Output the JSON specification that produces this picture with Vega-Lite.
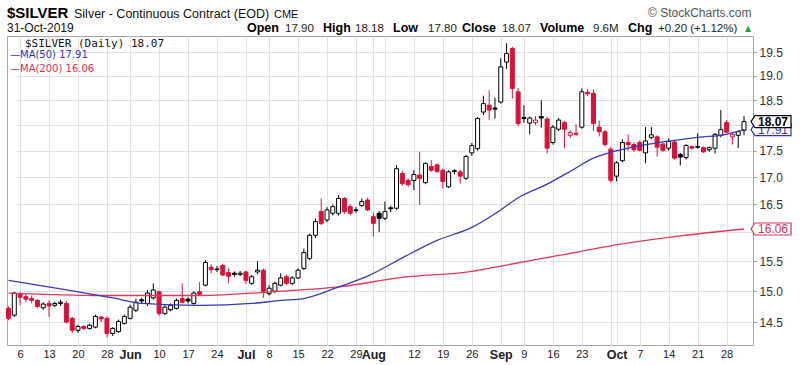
{
  "$schema": "https://vega.github.io/schema/vega-lite/v6.json",
  "width": 746,
  "height": 309,
  "autosize": {"type": "none"},
  "padding": {"left": 7, "top": 36, "right": 47, "bottom": 20},
  "background": "white",
  "config": {"view": {"stroke": "#a8a8a8", "strokeWidth": 1}, "font": "Liberation Sans"},
  "datasets": {
    "prices": [
      {"d":"2019-05-02","o":14.72,"h":14.75,"l":14.53,"c":14.56},
      {"d":"2019-05-03","o":14.61,"h":14.99,"l":14.58,"c":14.97},
      {"d":"2019-05-06","o":14.95,"h":14.98,"l":14.77,"c":14.90},
      {"d":"2019-05-07","o":14.91,"h":14.96,"l":14.82,"c":14.87},
      {"d":"2019-05-08","o":14.88,"h":14.93,"l":14.80,"c":14.85},
      {"d":"2019-05-09","o":14.85,"h":14.87,"l":14.73,"c":14.75},
      {"d":"2019-05-10","o":14.73,"h":14.82,"l":14.70,"c":14.79},
      {"d":"2019-05-13","o":14.80,"h":14.85,"l":14.58,"c":14.76},
      {"d":"2019-05-14","o":14.77,"h":14.83,"l":14.74,"c":14.80},
      {"d":"2019-05-15","o":14.80,"h":14.86,"l":14.76,"c":14.82},
      {"d":"2019-05-16","o":14.80,"h":14.84,"l":14.48,"c":14.50},
      {"d":"2019-05-17","o":14.56,"h":14.58,"l":14.33,"c":14.37},
      {"d":"2019-05-20","o":14.37,"h":14.46,"l":14.33,"c":14.43},
      {"d":"2019-05-21","o":14.43,"h":14.45,"l":14.37,"c":14.40},
      {"d":"2019-05-22","o":14.40,"h":14.47,"l":14.38,"c":14.45},
      {"d":"2019-05-23","o":14.42,"h":14.62,"l":14.40,"c":14.59},
      {"d":"2019-05-24","o":14.58,"h":14.60,"l":14.50,"c":14.55},
      {"d":"2019-05-28","o":14.56,"h":14.59,"l":14.26,"c":14.32},
      {"d":"2019-05-29","o":14.32,"h":14.42,"l":14.28,"c":14.40},
      {"d":"2019-05-30","o":14.35,"h":14.54,"l":14.33,"c":14.51},
      {"d":"2019-05-31","o":14.48,"h":14.62,"l":14.46,"c":14.59},
      {"d":"2019-06-03","o":14.56,"h":14.78,"l":14.54,"c":14.74},
      {"d":"2019-06-04","o":14.69,"h":14.88,"l":14.66,"c":14.82},
      {"d":"2019-06-05","o":14.86,"h":14.89,"l":14.79,"c":14.84},
      {"d":"2019-06-06","o":14.80,"h":15.02,"l":14.76,"c":14.97},
      {"d":"2019-06-07","o":14.89,"h":15.13,"l":14.86,"c":15.02},
      {"d":"2019-06-10","o":14.99,"h":15.01,"l":14.60,"c":14.64},
      {"d":"2019-06-11","o":14.64,"h":14.77,"l":14.61,"c":14.74},
      {"d":"2019-06-12","o":14.70,"h":14.80,"l":14.67,"c":14.77},
      {"d":"2019-06-13","o":14.72,"h":14.88,"l":14.70,"c":14.85},
      {"d":"2019-06-14","o":14.88,"h":15.13,"l":14.80,"c":14.82},
      {"d":"2019-06-17","o":14.87,"h":14.90,"l":14.80,"c":14.84},
      {"d":"2019-06-18","o":14.80,"h":15.00,"l":14.78,"c":14.97},
      {"d":"2019-06-19","o":14.99,"h":15.15,"l":14.93,"c":14.95},
      {"d":"2019-06-20","o":15.10,"h":15.52,"l":15.08,"c":15.48},
      {"d":"2019-06-21","o":15.40,"h":15.45,"l":15.30,"c":15.36},
      {"d":"2019-06-24","o":15.36,"h":15.42,"l":15.32,"c":15.37},
      {"d":"2019-06-25","o":15.43,"h":15.46,"l":15.25,"c":15.27},
      {"d":"2019-06-26","o":15.31,"h":15.38,"l":15.13,"c":15.25},
      {"d":"2019-06-27","o":15.30,"h":15.33,"l":15.24,"c":15.28},
      {"d":"2019-06-28","o":15.28,"h":15.34,"l":15.25,"c":15.30},
      {"d":"2019-07-01","o":15.32,"h":15.34,"l":15.12,"c":15.18},
      {"d":"2019-07-02","o":15.13,"h":15.27,"l":15.10,"c":15.24},
      {"d":"2019-07-03","o":15.32,"h":15.50,"l":15.28,"c":15.35},
      {"d":"2019-07-05","o":15.35,"h":15.38,"l":14.89,"c":15.00},
      {"d":"2019-07-08","o":14.96,"h":15.10,"l":14.93,"c":15.05},
      {"d":"2019-07-09","o":15.00,"h":15.16,"l":14.97,"c":15.13},
      {"d":"2019-07-10","o":15.10,"h":15.30,"l":15.08,"c":15.22},
      {"d":"2019-07-11","o":15.24,"h":15.28,"l":15.10,"c":15.13},
      {"d":"2019-07-12","o":15.13,"h":15.25,"l":15.10,"c":15.22},
      {"d":"2019-07-15","o":15.22,"h":15.38,"l":15.20,"c":15.35},
      {"d":"2019-07-16","o":15.38,"h":15.72,"l":15.35,"c":15.65},
      {"d":"2019-07-17","o":15.55,"h":15.98,"l":15.52,"c":15.95},
      {"d":"2019-07-18","o":15.95,"h":16.25,"l":15.90,"c":16.19},
      {"d":"2019-07-19","o":16.37,"h":16.61,"l":16.13,"c":16.16},
      {"d":"2019-07-22","o":16.22,"h":16.45,"l":16.18,"c":16.40},
      {"d":"2019-07-23","o":16.34,"h":16.50,"l":16.30,"c":16.46},
      {"d":"2019-07-24","o":16.34,"h":16.67,"l":16.30,"c":16.61},
      {"d":"2019-07-25","o":16.61,"h":16.63,"l":16.33,"c":16.37},
      {"d":"2019-07-26","o":16.46,"h":16.50,"l":16.30,"c":16.34},
      {"d":"2019-07-29","o":16.40,"h":16.45,"l":16.35,"c":16.39},
      {"d":"2019-07-30","o":16.48,"h":16.61,"l":16.45,"c":16.55},
      {"d":"2019-07-31","o":16.58,"h":16.62,"l":16.38,"c":16.40},
      {"d":"2019-08-01","o":16.28,"h":16.35,"l":15.92,"c":16.16},
      {"d":"2019-08-02","o":16.34,"h":16.38,"l":16.01,"c":16.25},
      {"d":"2019-08-05","o":16.25,"h":16.55,"l":16.22,"c":16.37},
      {"d":"2019-08-06","o":16.44,"h":16.48,"l":16.36,"c":16.42},
      {"d":"2019-08-07","o":16.43,"h":17.23,"l":16.40,"c":17.16},
      {"d":"2019-08-08","o":17.07,"h":17.12,"l":16.84,"c":16.88},
      {"d":"2019-08-09","o":16.94,"h":16.98,"l":16.82,"c":16.86},
      {"d":"2019-08-12","o":16.94,"h":17.13,"l":16.76,"c":17.05},
      {"d":"2019-08-13","o":17.04,"h":17.48,"l":16.49,"c":16.98},
      {"d":"2019-08-14","o":16.90,"h":17.28,"l":16.87,"c":17.26},
      {"d":"2019-08-15","o":17.20,"h":17.32,"l":17.10,"c":17.13},
      {"d":"2019-08-16","o":17.23,"h":17.26,"l":17.08,"c":17.11},
      {"d":"2019-08-19","o":17.13,"h":17.16,"l":16.79,"c":16.92},
      {"d":"2019-08-20","o":16.82,"h":17.13,"l":16.80,"c":17.10},
      {"d":"2019-08-21","o":17.12,"h":17.15,"l":17.05,"c":17.11},
      {"d":"2019-08-22","o":17.10,"h":17.13,"l":16.88,"c":17.02},
      {"d":"2019-08-23","o":16.98,"h":17.42,"l":16.95,"c":17.39},
      {"d":"2019-08-26","o":17.46,"h":17.65,"l":17.40,"c":17.60},
      {"d":"2019-08-27","o":17.54,"h":18.16,"l":17.50,"c":18.13},
      {"d":"2019-08-28","o":18.26,"h":18.59,"l":18.20,"c":18.43},
      {"d":"2019-08-29","o":18.40,"h":18.70,"l":18.10,"c":18.30},
      {"d":"2019-08-30","o":18.34,"h":18.55,"l":18.13,"c":18.32},
      {"d":"2019-09-03","o":18.46,"h":19.37,"l":18.43,"c":19.19},
      {"d":"2019-09-04","o":19.29,"h":19.69,"l":19.15,"c":19.47},
      {"d":"2019-09-05","o":19.58,"h":19.62,"l":18.53,"c":18.74},
      {"d":"2019-09-06","o":18.67,"h":18.75,"l":17.98,"c":18.03},
      {"d":"2019-09-09","o":18.15,"h":18.40,"l":18.05,"c":18.13},
      {"d":"2019-09-10","o":18.04,"h":18.17,"l":17.82,"c":18.14},
      {"d":"2019-09-11","o":18.05,"h":18.18,"l":18.00,"c":18.10},
      {"d":"2019-09-12","o":18.17,"h":18.50,"l":17.95,"c":18.14},
      {"d":"2019-09-13","o":18.12,"h":18.16,"l":17.45,"c":17.55},
      {"d":"2019-09-16","o":17.66,"h":18.00,"l":17.62,"c":17.96},
      {"d":"2019-09-17","o":17.92,"h":18.14,"l":17.88,"c":18.10},
      {"d":"2019-09-18","o":18.05,"h":18.08,"l":17.55,"c":17.92},
      {"d":"2019-09-19","o":17.80,"h":17.90,"l":17.75,"c":17.85},
      {"d":"2019-09-20","o":17.84,"h":18.02,"l":17.78,"c":17.82},
      {"d":"2019-09-23","o":17.96,"h":18.74,"l":17.93,"c":18.67},
      {"d":"2019-09-24","o":18.66,"h":18.72,"l":18.58,"c":18.63},
      {"d":"2019-09-25","o":18.64,"h":18.72,"l":17.88,"c":18.03},
      {"d":"2019-09-26","o":17.96,"h":18.09,"l":17.78,"c":17.87},
      {"d":"2019-09-27","o":17.87,"h":17.90,"l":17.58,"c":17.62},
      {"d":"2019-09-30","o":17.53,"h":17.58,"l":16.90,"c":16.94},
      {"d":"2019-10-01","o":17.02,"h":17.30,"l":16.92,"c":17.27},
      {"d":"2019-10-02","o":17.31,"h":17.72,"l":17.28,"c":17.66},
      {"d":"2019-10-03","o":17.66,"h":17.82,"l":17.50,"c":17.62},
      {"d":"2019-10-04","o":17.62,"h":17.66,"l":17.48,"c":17.52},
      {"d":"2019-10-07","o":17.66,"h":17.70,"l":17.49,"c":17.51},
      {"d":"2019-10-08","o":17.46,"h":17.96,"l":17.26,"c":17.69},
      {"d":"2019-10-09","o":17.76,"h":17.96,"l":17.72,"c":17.81},
      {"d":"2019-10-10","o":17.77,"h":17.80,"l":17.39,"c":17.57},
      {"d":"2019-10-11","o":17.63,"h":17.66,"l":17.48,"c":17.51},
      {"d":"2019-10-14","o":17.55,"h":17.74,"l":17.50,"c":17.68},
      {"d":"2019-10-15","o":17.67,"h":17.70,"l":17.33,"c":17.36},
      {"d":"2019-10-16","o":17.43,"h":17.46,"l":17.22,"c":17.38},
      {"d":"2019-10-17","o":17.37,"h":17.63,"l":17.33,"c":17.60},
      {"d":"2019-10-18","o":17.58,"h":17.60,"l":17.52,"c":17.55},
      {"d":"2019-10-21","o":17.58,"h":17.84,"l":17.54,"c":17.57},
      {"d":"2019-10-22","o":17.56,"h":17.58,"l":17.46,"c":17.48},
      {"d":"2019-10-23","o":17.52,"h":17.58,"l":17.48,"c":17.56},
      {"d":"2019-10-24","o":17.55,"h":17.84,"l":17.45,"c":17.82},
      {"d":"2019-10-25","o":17.80,"h":18.30,"l":17.76,"c":17.91},
      {"d":"2019-10-28","o":18.05,"h":18.10,"l":17.84,"c":17.86},
      {"d":"2019-10-29","o":17.77,"h":17.85,"l":17.62,"c":17.82},
      {"d":"2019-10-30","o":17.80,"h":17.88,"l":17.55,"c":17.87},
      {"d":"2019-10-31","o":17.90,"h":18.18,"l":17.80,"c":18.07}
    ],
    "ma50": [
      {"d":"2019-05-02","v":15.18},
      {"d":"2019-05-15","v":15.04},
      {"d":"2019-05-29","v":14.89},
      {"d":"2019-06-05","v":14.80},
      {"d":"2019-06-19","v":14.77},
      {"d":"2019-07-02","v":14.80},
      {"d":"2019-07-10","v":14.85},
      {"d":"2019-07-16","v":14.88},
      {"d":"2019-07-24","v":15.07},
      {"d":"2019-07-31","v":15.25},
      {"d":"2019-08-08","v":15.56},
      {"d":"2019-08-16","v":15.86},
      {"d":"2019-08-26","v":16.09},
      {"d":"2019-09-03","v":16.40},
      {"d":"2019-09-06","v":16.62},
      {"d":"2019-09-13","v":16.87},
      {"d":"2019-09-19","v":17.11},
      {"d":"2019-09-25","v":17.36},
      {"d":"2019-09-30","v":17.47},
      {"d":"2019-10-03","v":17.55},
      {"d":"2019-10-11","v":17.67},
      {"d":"2019-10-21","v":17.76},
      {"d":"2019-10-28","v":17.82},
      {"d":"2019-10-31","v":17.91}
    ],
    "ma200": [
      {"d":"2019-05-02","v":14.97},
      {"d":"2019-05-24","v":14.93},
      {"d":"2019-06-19","v":14.93},
      {"d":"2019-07-10","v":15.00},
      {"d":"2019-07-24","v":15.07},
      {"d":"2019-08-08","v":15.23},
      {"d":"2019-08-26","v":15.33},
      {"d":"2019-09-03","v":15.42},
      {"d":"2019-09-17","v":15.60},
      {"d":"2019-10-02","v":15.80},
      {"d":"2019-10-16","v":15.94},
      {"d":"2019-10-31","v":16.06}
    ],
    "tags": [
      {"k":"ma200","d":"2019-10-31","v":16.06,"t":"16.06"},
      {"k":"ma50","d":"2019-10-31","v":17.91,"t":"17.91"},
      {"k":"close","d":"2019-10-31","v":18.07,"t":"18.07"}
    ]
  },
  "layer": [
    {
      "data": {"name": "prices"},
      "transform": [{"window": [{"op": "lag", "field": "c", "as": "pc"}], "sort": [{"field": "d"}]}],
      "layer": [
        {
          "mark": {"type": "rule", "strokeWidth": 1},
          "encoding": {
            "x": {
              "field": "d", "type": "ordinal",
              "scale": {"type": "point", "range": [1.5, 737], "padding": 0},
              "axis": {
                "title": null, "orient": "bottom",
                "values": ["2019-05-06","2019-05-13","2019-05-20","2019-05-28","2019-06-03","2019-06-10","2019-06-17","2019-06-24","2019-07-01","2019-07-08","2019-07-15","2019-07-22","2019-07-29","2019-08-01","2019-08-05","2019-08-12","2019-08-19","2019-08-26","2019-09-03","2019-09-09","2019-09-16","2019-09-23","2019-09-30","2019-10-01","2019-10-07","2019-10-14","2019-10-21","2019-10-28"],
                "labelExpr": "datum.value == '2019-06-03' ? 'Jun' : datum.value == '2019-07-01' ? 'Jul' : datum.value == '2019-08-01' ? 'Aug' : datum.value == '2019-09-03' ? 'Sep' : datum.value == '2019-10-01' ? 'Oct' : (datum.value == '2019-08-05' || datum.value == '2019-09-30') ? '' : '' + toNumber(substring(datum.value, 8, 10))",
                "labelAngle": 0, "ticks": false, "domain": false, "labelPadding": 3,
                "grid": true, "gridColor": "#e2e2e2",
                "labelFont": "Liberation Sans", "labelColor": "#222",
                "labelFontSize": {"condition": {"test": "indexof(['2019-06-03','2019-07-01','2019-08-01','2019-09-03','2019-10-01'], datum.value) >= 0", "value": 12.5}, "value": 11},
                "labelFontWeight": {"condition": {"test": "indexof(['2019-06-03','2019-07-01','2019-08-01','2019-09-03','2019-10-01'], datum.value) >= 0", "value": "bold"}, "value": "normal"},
                "labelOverlap": false, "labelBound": false
              }
            },
            "y": {
              "field": "l", "type": "quantitative",
              "scale": {"type": "log", "domain": [14.14, 19.85], "nice": false, "zero": false},
              "axis": {
                "title": null, "orient": "right",
                "values": [14.5, 15, 15.5, 16, 16.5, 17, 17.5, 18, 18.5, 19, 19.5],
                "labelExpr": "(datum.value == 16 || datum.value == 18) ? '' : format(datum.value, '.1f')",
                "grid": true, "gridColor": "#e2e2e2",
                "tickSize": 3, "tickColor": "#999", "labelPadding": 3, "domain": false,
                "labelFont": "Liberation Sans", "labelFontSize": 12, "labelColor": "#333"
              }
            },
            "y2": {"field": "h"},
            "stroke": {"condition": {"test": "datum.pc == null || datum.c < datum.pc", "value": "#d6123c"}, "value": "#000000"}
          }
        },
        {
          "mark": {"type": "bar", "size": 4, "strokeWidth": 1},
          "encoding": {
            "x": {"field": "d", "type": "ordinal"},
            "y": {"field": "o", "type": "quantitative"},
            "y2": {"field": "c"},
            "stroke": {"condition": {"test": "datum.pc == null || datum.c < datum.pc", "value": "#d6123c"}, "value": "#000000"},
            "fill": {"condition": [{"test": "datum.c > datum.o", "value": "#ffffff"}, {"test": "datum.pc == null || datum.c < datum.pc", "value": "#d6123c"}], "value": "#000000"}
          }
        }
      ]
    },
    {
      "data": {"name": "ma200"},
      "mark": {"type": "line", "color": "#e0385a", "strokeWidth": 1.3, "interpolate": "monotone"},
      "encoding": {"x": {"field": "d", "type": "ordinal"}, "y": {"field": "v", "type": "quantitative"}}
    },
    {
      "data": {"name": "ma50"},
      "mark": {"type": "line", "color": "#3a3ab4", "strokeWidth": 1.3, "interpolate": "monotone"},
      "encoding": {"x": {"field": "d", "type": "ordinal"}, "y": {"field": "v", "type": "quantitative"}}
    },
    {
      "data": {"name": "tags"},
      "transform": [{"filter": "datum.k != 'close'"}],
      "layer": [
        {
          "mark": {"type": "point", "shape": "M-1,0L-0.8,-0.3L1,-0.3L1,0.3L-0.8,0.3Z", "size": 1600, "fill": "#ffffff", "fillOpacity": 1, "opacity": 1, "strokeWidth": 1.2, "xOffset": 27},
          "encoding": {
            "x": {"field": "d", "type": "ordinal"},
            "y": {"field": "v", "type": "quantitative"},
            "stroke": {"field": "k", "type": "nominal", "scale": {"domain": ["ma200", "ma50", "close"], "range": ["#d8305a", "#3434b0", "#000000"]}, "legend": null}
          }
        },
        {
          "mark": {"type": "text", "xOffset": 29, "fontSize": 12, "font": "Liberation Sans", "baseline": "middle", "align": "center"},
          "encoding": {
            "x": {"field": "d", "type": "ordinal"},
            "y": {"field": "v", "type": "quantitative"},
            "text": {"field": "t"},
            "fill": {"field": "k", "type": "nominal", "scale": {"domain": ["ma200", "ma50", "close"], "range": ["#d8305a", "#3434b0", "#000000"]}, "legend": null}
          }
        }
      ]
    },
    {
      "data": {"name": "tags"},
      "transform": [{"filter": "datum.k == 'close'"}],
      "layer": [
        {
          "mark": {"type": "point", "shape": "M-1,0L-0.8,-0.3L1,-0.3L1,0.3L-0.8,0.3Z", "size": 1600, "fill": "#ffffff", "fillOpacity": 1, "opacity": 1, "strokeWidth": 1.2, "stroke": "#000000", "xOffset": 27},
          "encoding": {"x": {"field": "d", "type": "ordinal"}, "y": {"field": "v", "type": "quantitative"}}
        },
        {
          "mark": {"type": "text", "xOffset": 29, "fontSize": 12, "fontWeight": "bold", "font": "Liberation Sans", "baseline": "middle", "align": "center", "color": "#000000"},
          "encoding": {"x": {"field": "d", "type": "ordinal"}, "y": {"field": "v", "type": "quantitative"}, "text": {"field": "t"}}
        }
      ]
    },
    {"data": {"values": [{}]}, "mark": {"type": "text", "text": "$SILVER", "x": 0, "y": -18.5, "align": "left", "baseline": "alphabetic", "fontSize": 15, "fontWeight": "bold", "color": "#000"}},
    {"data": {"values": [{}]}, "mark": {"type": "text", "text": "Silver - Continuous Contract (EOD)", "x": 67, "y": -18.5, "align": "left", "baseline": "alphabetic", "fontSize": 12.5, "color": "#111"}},
    {"data": {"values": [{}]}, "mark": {"type": "text", "text": "CME", "x": 267, "y": -18.5, "align": "left", "baseline": "alphabetic", "fontSize": 11, "color": "#111"}},
    {"data": {"values": [{}]}, "mark": {"type": "text", "text": "© StockCharts.com", "x": 641, "y": -19.5, "align": "left", "baseline": "alphabetic", "fontSize": 12, "color": "#555"}},
    {"data": {"values": [{}]}, "mark": {"type": "text", "text": "31-Oct-2019", "x": 0, "y": -4.5, "align": "left", "baseline": "alphabetic", "fontSize": 12, "color": "#111"}},
    {"data": {"values": [{}]}, "mark": {"type": "text", "text": "Open", "x": 240, "y": -4.5, "align": "left", "baseline": "alphabetic", "fontSize": 12.5, "fontWeight": "bold", "color": "#000"}},
    {"data": {"values": [{}]}, "mark": {"type": "text", "text": "17.90", "x": 278, "y": -4.5, "align": "left", "baseline": "alphabetic", "fontSize": 11.5, "color": "#222"}},
    {"data": {"values": [{}]}, "mark": {"type": "text", "text": "High", "x": 316, "y": -4.5, "align": "left", "baseline": "alphabetic", "fontSize": 12.5, "fontWeight": "bold", "color": "#000"}},
    {"data": {"values": [{}]}, "mark": {"type": "text", "text": "18.18", "x": 348, "y": -4.5, "align": "left", "baseline": "alphabetic", "fontSize": 11.5, "color": "#222"}},
    {"data": {"values": [{}]}, "mark": {"type": "text", "text": "Low", "x": 386, "y": -4.5, "align": "left", "baseline": "alphabetic", "fontSize": 12.5, "fontWeight": "bold", "color": "#000"}},
    {"data": {"values": [{}]}, "mark": {"type": "text", "text": "17.80", "x": 421, "y": -4.5, "align": "left", "baseline": "alphabetic", "fontSize": 11.5, "color": "#222"}},
    {"data": {"values": [{}]}, "mark": {"type": "text", "text": "Close", "x": 455, "y": -4.5, "align": "left", "baseline": "alphabetic", "fontSize": 12.5, "fontWeight": "bold", "color": "#000"}},
    {"data": {"values": [{}]}, "mark": {"type": "text", "text": "18.07", "x": 495, "y": -4.5, "align": "left", "baseline": "alphabetic", "fontSize": 11.5, "color": "#222"}},
    {"data": {"values": [{}]}, "mark": {"type": "text", "text": "Volume", "x": 533, "y": -4.5, "align": "left", "baseline": "alphabetic", "fontSize": 12.5, "fontWeight": "bold", "color": "#000"}},
    {"data": {"values": [{}]}, "mark": {"type": "text", "text": "9.6M", "x": 586, "y": -4.5, "align": "left", "baseline": "alphabetic", "fontSize": 11.5, "color": "#222"}},
    {"data": {"values": [{}]}, "mark": {"type": "text", "text": "Chg", "x": 621, "y": -4.5, "align": "left", "baseline": "alphabetic", "fontSize": 12.5, "fontWeight": "bold", "color": "#000"}},
    {"data": {"values": [{}]}, "mark": {"type": "text", "text": "+0.20 (+1.12%)", "x": 651, "y": -4.5, "align": "left", "baseline": "alphabetic", "fontSize": 11.5, "color": "#222"}},
    {"data": {"values": [{}]}, "mark": {"type": "text", "text": "▲", "x": 738, "y": -5, "align": "left", "baseline": "alphabetic", "fontSize": 8, "font": "DejaVu Sans", "color": "#2f9a3c"}},
    {"data": {"values": [{}]}, "mark": {"type": "text", "text": "$SILVER (Daily) 18.07", "x": 18, "y": 11, "align": "left", "baseline": "alphabetic", "fontSize": 11, "font": "DejaVu Sans Mono", "color": "#111"}},
    {"data": {"values": [{}]}, "mark": {"type": "text", "text": "—MA(50) 17.91", "x": 3, "y": 21.5, "align": "left", "baseline": "alphabetic", "fontSize": 10, "font": "DejaVu Sans", "color": "#3434b0"}},
    {"data": {"values": [{}]}, "mark": {"type": "text", "text": "—MA(200) 16.06", "x": 3, "y": 35.5, "align": "left", "baseline": "alphabetic", "fontSize": 10, "font": "DejaVu Sans", "color": "#d8305a"}}
  ]
}
